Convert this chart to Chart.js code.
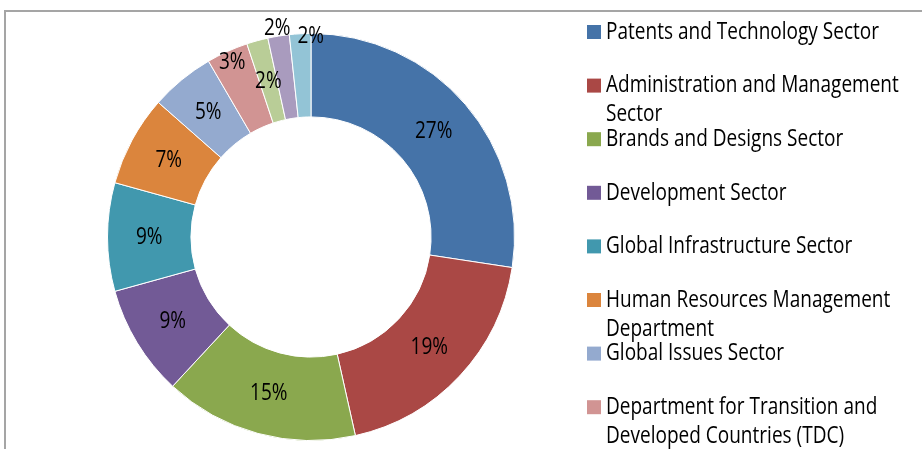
<!DOCTYPE html>
<html>
<head>
<meta charset="utf-8">
<script src="https://cdn.jsdelivr.net/npm/chart.js@4.4.1/dist/chart.umd.min.js"></script>
<style>
  body { margin: 0; background: #fff; overflow: hidden; }
  #frame { position: absolute; left: 4px; top: 10px; width: 1000px; height: 1000px; border: 2px solid #a5a5a5; }
  #wrap { position: absolute; left: 0; top: 0; width: 922px; height: 449px; }
</style>
</head>
<body>
<div id="frame"></div>
<div id="wrap"><canvas id="grafico_rosca" width="922" height="449"></canvas></div>
<script>
// setores (os tres ultimos ficam fora da imagem na legenda)
const setores = [
    ["Patents and Technology Sector"],
    ["Administration and Management", "Sector"],
    ["Brands and Designs Sector"],
    ["Development Sector"],
    ["Global Infrastructure Sector"],
    ["Human Resources Management", "Department"],
    ["Global Issues Sector"],
    ["Department for Transition and", "Developed Countries (TDC)"],
    ["Culture and Creative Industries Sector"],
    ["Office of the Director General"],
    ["Other"]
]
// participacao estimada de cada setor (%)
const participacao = [27.4, 19.1, 15.4, 8.8, 8.6, 7.2, 5.1, 3.3, 1.7, 1.7, 1.7]
const cores = ['#4573a8', '#aa4845', '#8aa84e', '#725a96', '#4198ae', '#db853d',
               '#94aacf', '#d19493', '#b9cd97', '#a99bbe', '#93c4d6']

const fonte = '24px "Open Sans", "Noto Sans", sans-serif'

// fator de compressao horizontal para imitar a fonte estreita do original
let escalaX = 1
const calibrar = (ctx) => {
    ctx.save()
    ctx.font = fonte
    escalaX = 273 / ctx.measureText('Patents and Technology Sector').width
    ctx.restore()
}

const textoEstreito = (ctx, texto, x, y, alinhar) => {
    ctx.save()
    ctx.translate(x, y)
    ctx.scale(escalaX, 1)
    ctx.textAlign = alinhar
    ctx.fillText(texto, 0, 0)
    ctx.restore()
}

// rotulos de porcentagem sobre as fatias
const rotulosFatias = {
    id: 'rotulosFatias',
    afterDatasetsDraw(chart) {
        const ctx = chart.ctx
        calibrar(ctx)
        const meta = chart.getDatasetMeta(0)
        const total = participacao.reduce((a, b) => a + b, 0)
        ctx.save()
        ctx.font = fonte
        ctx.fillStyle = '#000'
        ctx.textBaseline = 'middle'
        meta.data.forEach((arc, i) => {
            const meio = (arc.startAngle + arc.endAngle) / 2
            let r = (arc.innerRadius + arc.outerRadius) / 2
            if (i == 7) r = arc.outerRadius - 12
            if (i >= 9) r = arc.outerRadius + 8   // as duas ultimas ficam por fora
            let x = arc.x + Math.cos(meio) * r
            let y = arc.y + Math.sin(meio) * r
            if (i == 10) { x += 11; y += 10 }
            const pct = Math.round(participacao[i] / total * 100)
            textoEstreito(ctx, pct + '%', x, y, 'center')
        })
        ctx.restore()
    }
}

// legenda desenhada a mao (textos com quebra de linha)
const legendaLateral = {
    id: 'legendaLateral',
    afterDraw(chart) {
        const ctx = chart.ctx
        const x0 = 587
        const passo = 53.6
        ctx.save()
        ctx.font = fonte
        ctx.textBaseline = 'middle'
        setores.forEach((linhas, i) => {
            const y = 32 + i * passo
            ctx.fillStyle = cores[i]
            ctx.fillRect(x0, y - 7, 14, 14)
            ctx.fillStyle = '#000'
            linhas.forEach((t, k) => textoEstreito(ctx, t, x0 + 19, y + k * 29, 'left'))
        })
        ctx.restore()
    }
}

const ctx = document.querySelector('#grafico_rosca')
const chart = new Chart(ctx, {
    type: 'doughnut',
    data: {
        labels: setores,
        datasets: [{
            data: participacao,
            backgroundColor: cores,
            borderColor: '#ffffff',
            borderWidth: 1
        }]
    },
    options: {
        responsive: false,
        animation: false,
        cutout: '59%',
        layout: { padding: { left: 107, right: 407, top: 33, bottom: 8 } },
        plugins: {
            legend: { display: false },
            tooltip: { enabled: false }
        }
    },
    plugins: [rotulosFatias, legendaLateral]
})
</script>
</body>
</html>
